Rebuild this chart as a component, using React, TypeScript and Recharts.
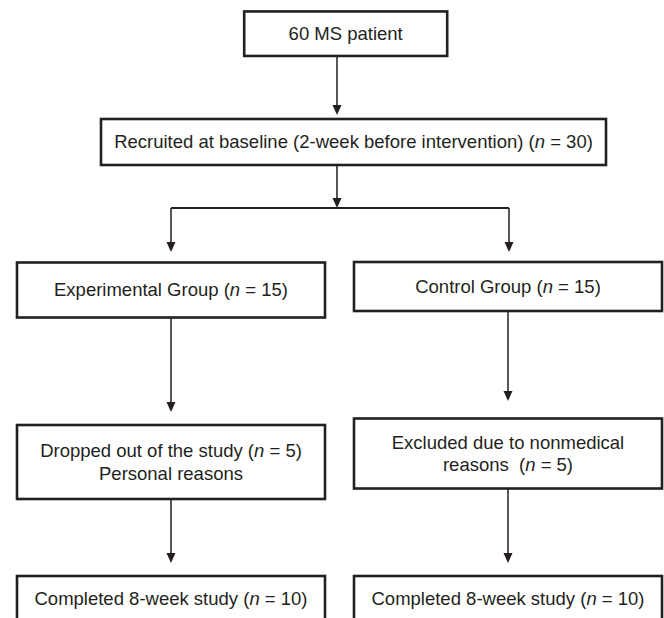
import React from 'react';
import { ScatterChart, Scatter, XAxis, YAxis, ReferenceLine } from 'recharts';

// flow of patients through the study
const screenedLabel = '60 MS patient';
const recruitedLabel = 'Recruited at baseline (2-week before intervention)';
const recruitedN = 30;
const armNames = ['Experimental Group', 'Control Group'];
const armN = [15, 15];
const lossLines = [
  ['Dropped out of the study', 'Personal reasons'],
  ['Excluded due to nonmedical', 'reasons '],
];
const lossNLine = [0, 1]; // which line carries the (n = ...)
const lossN = [5, 5];
const completedLabel = 'Completed 8-week study';
const completedN = [10, 10];

const W = 664;
const H = 618;
const INK = '#231f20';
const FONT = '"Liberation Sans", Arial, sans-serif';
const FS = 18.5;
const LINE_GAP = 22.5;

type Line = { text: string; n?: number };
type Node = { x: number; y: number; w: number; h: number; lines: Line[] };

// geometry of the boxes, in chart units (1 unit = 1px)
const colX = [171, 508];
const layout = {
  top: { x: 345.7, y: 33.7, w: 203, h: 44.5 },
  recruit: { x: 353.5, y: 142, w: 505, h: 46 },
  arm: [{ y: 290, h: 55 }, { y: 286.5, h: 49 }],
  loss: [{ y: 462, h: 74 }, { y: 453.5, h: 70 }],
  done: [{ y: 598.5, h: 45 }, { y: 598.5, h: 45 }],
  colW: 308,
};

const nodes: Node[] = [
  { ...layout.top, lines: [{ text: screenedLabel }] },
  { ...layout.recruit, lines: [{ text: recruitedLabel, n: recruitedN }] },
  ...armNames.map((name, i) => ({
    x: colX[i], w: layout.colW, ...layout.arm[i],
    lines: [{ text: name, n: armN[i] }],
  })),
  ...lossLines.map((ls, i) => ({
    x: colX[i], w: layout.colW, ...layout.loss[i],
    lines: ls.map((t, j) => (j === lossNLine[i] ? { text: t, n: lossN[i] } : { text: t })),
  })),
  ...completedN.map((n, i) => ({
    x: colX[i], w: layout.colW, ...layout.done[i],
    lines: [{ text: completedLabel, n }],
  })),
];

const midX = 337;
const connectors = [
  { x1: midX, y1: 56, x2: midX, y2: 110 },
  { x1: midX, y1: 165, x2: midX, y2: 204 },
  { x1: colX[0], y1: 208, x2: 509, y2: 208 },
  { x1: colX[0], y1: 208, x2: colX[0], y2: 248 },
  { x1: 509, y1: 208, x2: 509, y2: 248 },
  { x1: colX[0], y1: 317.5, x2: colX[0], y2: 408 },
  { x1: colX[1], y1: 311, x2: colX[1], y2: 397 },
  { x1: colX[0], y1: 499, x2: colX[0], y2: 559 },
  { x1: colX[1], y1: 488.5, x2: colX[1], y2: 559 },
];
const arrowTips = [
  { x: midX, y: 115 },
  { x: midX, y: 208 },
  { x: colX[0], y: 252 },
  { x: 509, y: 252 },
  { x: colX[0], y: 412 },
  { x: colX[1], y: 401 },
  { x: colX[0], y: 563 },
  { x: colX[1], y: 563 },
];

const renderLine = (l: Line) =>
  l.n === undefined ? (
    l.text
  ) : (
    <>
      {`${l.text} (`}
      <tspan fontStyle="italic">n</tspan>
      {` = ${l.n})`}
    </>
  );

const BoxShape = (props: any) => {
  const { cx, cy, payload } = props;
  const p = payload as Node;
  const first = cy - ((p.lines.length - 1) * LINE_GAP) / 2;
  return (
    <g>
      <rect
        x={cx - p.w / 2}
        y={cy - p.h / 2}
        width={p.w}
        height={p.h}
        fill="#fff"
        stroke={INK}
        strokeWidth={2.6}
      />
      {p.lines.map((l, i) => (
        <text
          key={i}
          x={cx}
          y={first + i * LINE_GAP + FS * 0.35}
          textAnchor="middle"
          fontFamily={FONT}
          fontSize={FS}
          fill={INK}
          style={{ whiteSpace: 'pre' }}
        >
          {renderLine(l)}
        </text>
      ))}
    </g>
  );
};

const ArrowHead = (props: any) => {
  const { cx, cy } = props;
  return <path d={`M${cx},${cy} L${cx - 4.5},${cy - 10} L${cx + 4.5},${cy - 10} Z`} fill={INK} />;
};

export default function App() {
  return (
    <div style={{ position: 'absolute', left: 0, top: 0, background: '#fff' }}>
      <ScatterChart width={W} height={H} margin={{ top: 0, right: 0, bottom: 0, left: 0 }}>
        <XAxis type="number" dataKey="x" domain={[0, W]} hide allowDataOverflow />
        <YAxis type="number" dataKey="y" domain={[0, H]} reversed hide allowDataOverflow />
        {connectors.map((c, i) => (
          <ReferenceLine
            key={`c-${i}`}
            segment={[{ x: c.x1, y: c.y1 }, { x: c.x2, y: c.y2 }]}
            stroke={INK}
            strokeWidth={c.y1 === c.y2 ? 2 : 1.5}
            ifOverflow="visible"
          />
        ))}
        <Scatter data={nodes} shape={BoxShape} isAnimationActive={false} />
        <Scatter data={arrowTips} shape={ArrowHead} isAnimationActive={false} />
      </ScatterChart>
    </div>
  );
}
